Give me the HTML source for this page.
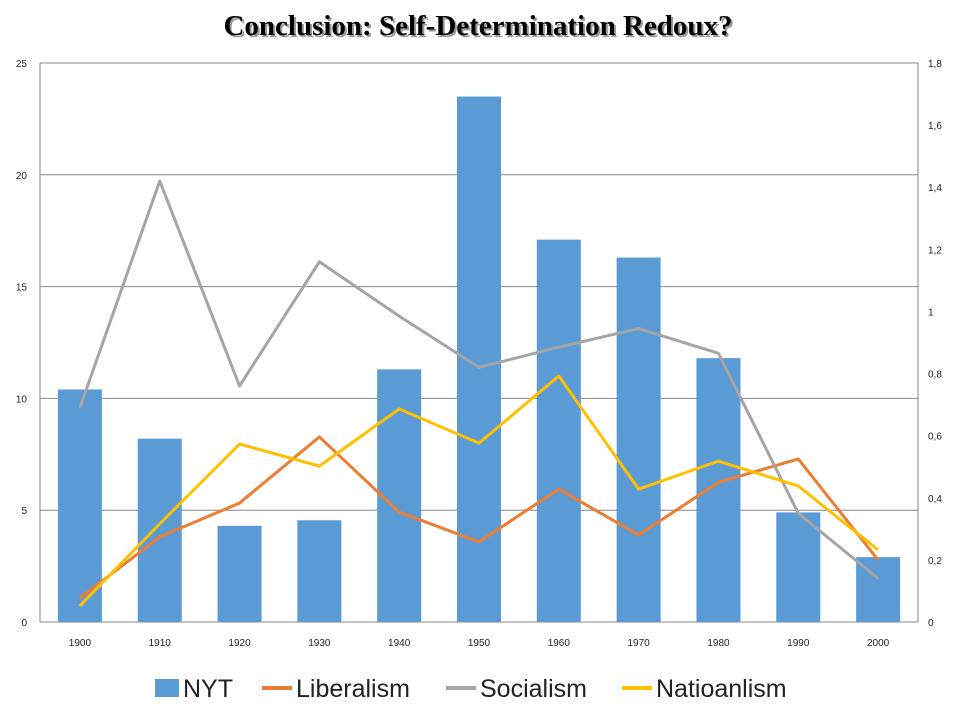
<!DOCTYPE html>
<html><head><meta charset="utf-8"><style>
body{margin:0;background:#fff;width:960px;height:720px;overflow:hidden}
svg text{font-family:"Liberation Sans",sans-serif}
</style></head><body>
<svg id="c" width="960" height="720">
<text x="480" y="37" text-anchor="middle" font-family="Liberation Serif" font-weight="bold" font-size="29" fill="#999" style="font-family:'Liberation Serif',serif">Conclusion: Self-Determination Redoux?</text>
<text x="478" y="35" text-anchor="middle" font-weight="bold" font-size="29" fill="#000" style="font-family:'Liberation Serif',serif">Conclusion: Self-Determination Redoux?</text>
<g id="grid"></g><g id="bars"></g><g id="lines"></g><g id="axes"></g><g id="legend"></g>
</svg>
<script>
const categories=["1900","1910","1920","1930","1940","1950","1960","1970","1980","1990","2000"];
const nyt=[10.4,8.2,4.3,4.55,11.3,23.5,17.1,16.3,11.8,4.9,2.9];
const liberalism=[0.077,0.274,0.383,0.596,0.354,0.258,0.428,0.28,0.45,0.525,0.2];
const socialism=[0.69,1.42,0.76,1.16,0.985,0.82,0.885,0.945,0.865,0.35,0.14];
const nationalism=[0.052,0.316,0.573,0.502,0.686,0.576,0.792,0.428,0.518,0.438,0.232];
const leftTicks=[0,5,10,15,20,25];
const rightTicks=["0","0,2","0,4","0,6","0,8","1","1,2","1,4","1,6","1,8"];
const NS="http://www.w3.org/2000/svg";
const L=40,R=918,T=63,B=622;
const yL=v=>B-(B-T)*v/25, yR=v=>B-(B-T)*v/1.8;
const step=(R-L)/categories.length, xC=i=>L+step*(i+0.5);
function mk(p,tag,a){const e=document.createElementNS(NS,tag);for(const k in a)e.setAttribute(k,a[k]);document.getElementById(p).appendChild(e);return e;}
leftTicks.forEach(t=>{const g=mk('grid','line',{x1:L,x2:R,y1:yL(t),y2:yL(t),stroke:'#888','stroke-width':1});

const tx=mk('axes','text',{x:27,y:yL(t)+4,'font-size':10,'text-anchor':'end',fill:'#222'});tx.textContent=t;
});
rightTicks.forEach((t,i)=>{const tx=mk('axes','text',{x:928,y:yR(i*0.2)+4,'font-size':10,fill:'#222'});tx.textContent=t;
});
[L,R].forEach(x=>{const a=mk('axes','line',{x1:x,x2:x,y1:T,y2:B,stroke:'#888'});});
categories.forEach((c,i)=>{const b=mk('bars','rect',{x:xC(i)-22,y:yL(nyt[i]),width:44,height:B-yL(nyt[i]),fill:'#5b9bd5'});

const tx=mk('axes','text',{x:xC(i),y:646,'font-size':10,'text-anchor':'middle',fill:'#222'});tx.textContent=c;
});
[[liberalism,'#ed7d31','liberalism'],[socialism,'#a5a5a5','socialism'],[nationalism,'#ffc000','nationalism']].forEach(([d,col,n])=>{
const p=mk('lines','polyline',{points:d.map((v,i)=>xC(i)+','+yR(v)).join(' '),fill:'none',stroke:col,'stroke-width':3,'stroke-linejoin':'round'});
});
const leg=[['NYT','#5b9bd5',155,1],['Liberalism','#ed7d31',262,0],['Socialism','#a5a5a5',446,0],['Natioanlism','#ffc000',622,0]];
leg.forEach(([t,col,x,bar])=>{
const m=bar?mk('legend','rect',{x:x,y:679,width:24,height:18,fill:col}):mk('legend','line',{x1:x,x2:x+30,y1:688,y2:688,stroke:col,'stroke-width':4});

const tx=mk('legend','text',{x:x+(bar?28:34),y:697,'font-size':25,fill:'#222'});tx.textContent=t;
});
</script>
</body></html>
